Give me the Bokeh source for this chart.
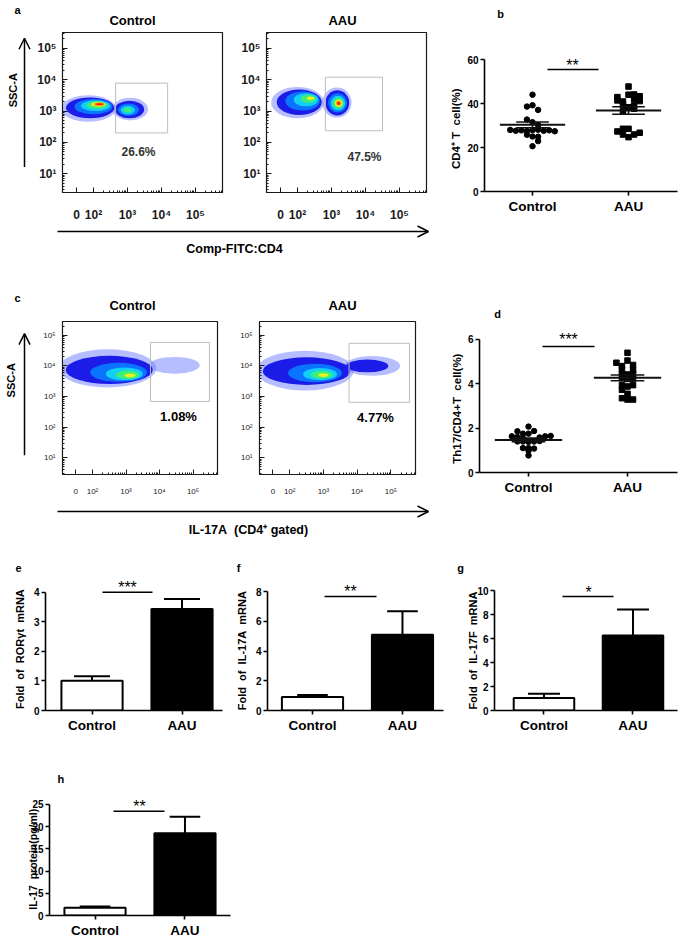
import math
from bokeh.plotting import figure
from bokeh.models import Range1d, FixedTicker, Label, Arrow, OpenHead, ColumnDataSource
from bokeh.layouts import row, column
from bokeh.embed import file_html
from bokeh.resources import INLINE

FONT = "Liberation Sans"
SP = "\u00a0"  # non-collapsing space for the wide gaps of the original labels

# ===================== DATA =====================
groups = ["Control", "AAU"]
group_pos = [1, 2]

flow_x_ticks = [1.5, 2, 3, 4, 5]
flow_x_labels = ["0", "10²", "10³", "10⁴", "10⁵"]
flow_y_ticks = [1, 2, 3, 4, 5]
flow_y_labels = ["10¹", "10²", "10³", "10⁴", "10⁵"]

# panel a: density contour levels (log10 units)
a_ctrl_x = [1.85, 1.90, 2.00, 2.06, 2.10, 2.14, 2.17, 2.18, 3.08, 3.06, 3.03, 3.01, 3.00]
a_ctrl_y = [3.08, 3.10, 3.14, 3.17, 3.19, 3.21, 3.22, 3.22, 3.06, 3.05, 3.04, 3.03, 3.03]
a_ctrl_w = [1.62, 1.42, 1.12, 0.86, 0.62, 0.42, 0.30, 0.20, 1.05, 0.86, 0.62, 0.42, 0.24]
a_ctrl_h = [0.84, 0.66, 0.48, 0.34, 0.24, 0.15, 0.10, 0.06, 0.72, 0.56, 0.40, 0.28, 0.15]
a_ctrl_lvl = [0, 1, 2, 3, 4, 5, 6, 7, 0, 1, 2, 3, 4]

a_aau_x = [2.00, 2.05, 2.15, 2.25, 2.32, 2.38, 3.16, 3.17, 3.18, 3.19, 3.20, 3.21, 3.21, 3.21]
a_aau_y = [3.27, 3.28, 3.32, 3.36, 3.39, 3.41, 3.27, 3.26, 3.26, 3.25, 3.25, 3.25, 3.25, 3.24]
a_aau_w = [1.55, 1.32, 1.02, 0.72, 0.46, 0.22, 0.86, 0.70, 0.56, 0.43, 0.32, 0.22, 0.15, 0.09]
a_aau_h = [1.00, 0.82, 0.60, 0.42, 0.26, 0.11, 0.96, 0.80, 0.62, 0.47, 0.34, 0.23, 0.15, 0.09]
a_aau_lvl = [0, 1, 2, 3, 4, 5, 0, 1, 2, 3, 4, 5, 6, 7]

a_gate_left = [2.65, 2.82]
a_gate_right = [4.18, 4.50]
a_gate_bottom = [2.30, 2.37]
a_gate_top = [3.89, 4.08]
a_pct = ["26.6%", "47.5%"]

# panel c: density contour levels (log10 units)
c_ctrl_x = [2.45, 4.45, 2.50, 2.78, 2.95, 3.05, 3.12]
c_ctrl_y = [3.92, 4.02, 3.87, 3.79, 3.74, 3.71, 3.69]
c_ctrl_w = [2.90, 1.50, 2.60, 1.70, 1.10, 0.70, 0.34]
c_ctrl_h = [1.25, 0.55, 0.92, 0.62, 0.42, 0.28, 0.13]
c_ctrl_lvl = [0, 0, 1, 2, 3, 4, 5]

c_aau_x = [2.45, 4.45, 2.50, 4.30, 2.75, 2.90, 2.95, 3.00]
c_aau_y = [3.85, 4.00, 3.83, 4.00, 3.77, 3.73, 3.71, 3.70]
c_aau_w = [2.90, 1.65, 2.60, 1.25, 1.60, 1.00, 0.65, 0.30]
c_aau_h = [1.30, 0.65, 0.90, 0.42, 0.60, 0.40, 0.26, 0.12]
c_aau_lvl = [0, 0, 1, 1, 2, 3, 4, 5]

c_gate_left = [3.73, 3.76]
c_gate_right = [5.49, 5.55]
c_gate_bottom = [2.84, 2.81]
c_gate_top = [4.77, 4.74]
c_pct = ["1.08%", "4.77%"]

# panel b: CD4+ T cell (%)
b_ctrl = [44.0, 39.2, 38.6, 37.1, 32.7, 31.5, 30.2, 28.0, 27.6, 27.8, 27.5, 27.9,
          28.1, 27.6, 27.8, 27.4, 25.8, 25.0, 24.9, 22.9, 20.6]
b_ctrl_dx = [0, 0, -0.058, 0.058, -0.058, 0, 0.058, -0.232, -0.174, -0.116, -0.058, 0,
             0.058, 0.116, 0.174, 0.232, -0.058, 0, 0.058, 0.058, 0]
b_aau = [47.7, 44.0, 44.1, 43.3, 42.9, 41.8, 41.4, 41.1, 40.9, 39.4, 39.0, 38.3,
         37.6, 36.6, 28.5, 28.5, 27.3, 26.7, 25.9, 25.9, 24.7]
b_aau_dx = [0, 0, 0.058, 0.116, -0.116, 0.058, -0.116, 0.116, -0.058, -0.058, 0.058, 0,
            0.058, -0.058, -0.058, 0, -0.116, 0.116, -0.058, 0.058, 0]
b_mean = [30.3, 36.8]
b_sem = [1.3, 1.7]

# panel d: Th17/CD4+T cell (%)
d_ctrl = [2.07, 1.86, 1.87, 1.75, 1.75, 1.63, 1.60, 1.58, 1.63, 1.65, 1.55,
          1.40, 1.40, 1.38, 1.40, 1.42, 1.10, 1.10, 1.08, 0.98, 0.77]
d_ctrl_dx = [0, -0.112, 0.056, -0.056, 0, -0.168, -0.112, 0.112, 0.168, 0.224, -0.056,
             -0.112, -0.056, 0, 0.056, 0.112, -0.056, 0, 0.056, 0, 0]
d_aau = [5.40, 5.05, 4.95, 4.85, 4.80, 4.65, 4.62, 4.45, 4.45, 4.42, 4.25,
         4.22, 4.22, 3.94, 3.94, 3.88, 3.73, 3.55, 3.35, 3.29, 3.29]
d_aau_dx = [0, 0, -0.112, 0.056, -0.056, -0.056, 0.056, -0.056, 0.056, 0, -0.056,
            0, 0.056, -0.056, 0.056, 0, -0.056, 0, -0.056, 0, 0.056]
d_mean = [1.47, 4.27]
d_sem = [0.08, 0.13]

# panels e-h: bar means and SEM
e_mean = [1.01, 3.43]
e_err = [0.15, 0.34]
f_mean = [0.90, 5.09]
f_err = [0.15, 1.59]
g_mean = [1.05, 6.25]
g_err = [0.34, 2.17]
h_mean = [1.74, 18.5]
h_err = [0.30, 3.70]

# ===================== LAYOUT (pixel boxes: left, top, right, bottom) =====================
FLOW_A_X = (1.088, 5.794)
FLOW_A_Y = (0.397, 5.508)
FLOW_C_X = (1.104, 5.731)
FLOW_C_Y = (0.452, 5.452)


def strip(box):
    return dict(canvas=box, frame=box, xr=(0, 1), yr=(0, 1))


S_TA = strip((0, 0, 445, 30))
S_NA = strip((0, 30, 32, 224))
S_A1 = dict(canvas=(32, 30, 238, 224), frame=(62, 32, 222, 193), xr=FLOW_A_X, yr=FLOW_A_Y)
S_A2 = dict(canvas=(238, 30, 445, 224), frame=(266, 32, 426, 193), xr=FLOW_A_X, yr=FLOW_A_Y)
S_XA = strip((0, 224, 445, 285))
S_TB = strip((445, 0, 685, 24))
S_B = dict(canvas=(445, 24, 685, 285), frame=(484, 24, 677, 191), xr=(0.5, 2.51), yr=(0, 75.91))
S_TC = strip((0, 285, 445, 312))
S_NC = strip((0, 312, 32, 502))
S_C1 = dict(canvas=(32, 312, 236, 502), frame=(62, 321, 217, 476), xr=FLOW_C_X, yr=FLOW_C_Y)
S_C2 = dict(canvas=(236, 312, 445, 502), frame=(259, 318, 415, 474), xr=FLOW_C_X, yr=FLOW_C_Y)
S_XC = strip((0, 502, 445, 555))
S_TD = strip((445, 285, 685, 322))
S_D = dict(canvas=(445, 322, 685, 555), frame=(479, 322, 677, 472), xr=(0.505, 2.505), yr=(0, 6.766))
S_TE = strip((0, 555, 685, 575))
S_E = dict(canvas=(0, 575, 232, 765), frame=(45, 575, 222, 712), xr=(0.483, 2.45), yr=(0, 4.567))
S_F = dict(canvas=(232, 575, 455, 765), frame=(267, 575, 443, 710), xr=(0.5, 2.456), yr=(0, 9.076))
S_G = dict(canvas=(455, 575, 685, 765), frame=(494, 575, 677, 710), xr=(0.444, 2.5), yr=(0, 11.25))
S_TH = strip((0, 765, 240, 785))
S_H = dict(canvas=(0, 785, 240, 940), frame=(49, 785, 230, 916), xr=(0.494, 2.506), yr=(0, 29.24))

LEVEL_COLORS = ["#6f7dff", "#1c1ce8", "#0a74ff", "#12d0f5", "#3cef78", "#e8f21e", "#ff8a00", "#ff1a00"]
LEVEL_ALPHA = [0.5, 1, 1, 1, 1, 1, 1, 1]


def px(spec, x, y):
    fl, ft, fr, fb = spec["frame"]
    x0, x1 = spec["xr"]
    y0, y1 = spec["yr"]
    return (x0 + (x - fl) / (fr - fl) * (x1 - x0),
            y1 - (y - ft) / (fb - ft) * (y1 - y0))


def make_fig(spec, axes=True):
    cl, ct, cr, cb = spec["canvas"]
    fl, ft, fr, fb = spec["frame"]
    kw = {}
    if not axes:
        kw = dict(x_axis_location=None, y_axis_location=None)
    p = figure(width=cr - cl, height=cb - ct,
               x_range=Range1d(*spec["xr"]), y_range=Range1d(*spec["yr"]),
               output_backend="svg", toolbar_location=None,
               min_border_left=fl - cl, min_border_right=cr - fr,
               min_border_top=ft - ct, min_border_bottom=cb - fb, **kw)
    p.xgrid.visible = False
    p.ygrid.visible = False
    p.outline_line_color = None
    p.background_fill_color = "white"
    p.border_fill_color = "white"
    return p


def label(p, spec, x, y, text, size, style="bold", angle=0.0, color="black", align="center"):
    sx, sy = px(spec, x, y)
    p.add_layout(Label(x=sx, y=sy, text=text, text_font=FONT,
                       text_font_size=f"{size}px", text_font_style=style,
                       text_color=color, angle=angle, text_align=align,
                       text_baseline="middle"))


def line(p, spec, x0, y0, x1, y1, head=False, lw=1.5):
    sx0, sy0 = px(spec, x0, y0)
    sx1, sy1 = px(spec, x1, y1)
    p.add_layout(Arrow(x_start=sx0, y_start=sy0, x_end=sx1, y_end=sy1,
                       line_color="black", line_width=lw,
                       end=OpenHead(size=11, line_width=lw, line_color="black") if head else None))


def style_flow(p, size, style, xstand, ystand):
    xr = p.x_range
    yr = p.y_range
    xminor = [d + math.log10(k) for d in range(2, 6) for k in range(2, 10)
              if d + math.log10(k) < xr.end]
    yminor = [d + math.log10(k) for d in range(0, 6) for k in range(2, 10)
              if yr.start < d + math.log10(k) < yr.end]
    p.xaxis.ticker = FixedTicker(ticks=flow_x_ticks, minor_ticks=xminor)
    p.yaxis.ticker = FixedTicker(ticks=flow_y_ticks, minor_ticks=yminor)
    p.xaxis.major_label_overrides = dict(zip(flow_x_ticks, flow_x_labels))
    p.yaxis.major_label_overrides = dict(zip(flow_y_ticks, flow_y_labels))
    for ax in (p.xaxis[0], p.yaxis[0]):
        ax.major_tick_in = 5
        ax.major_tick_out = 0
        ax.minor_tick_in = 2
        ax.minor_tick_out = 0
        ax.axis_line_color = "#1a1a1a"
        ax.major_tick_line_color = "#1a1a1a"
        ax.minor_tick_line_color = "#1a1a1a"
        ax.major_label_text_font = FONT
        ax.major_label_text_font_size = f"{size}px"
        ax.major_label_text_font_style = style
        ax.major_label_text_color = "#1a1a1a"
    p.xaxis.major_label_standoff = xstand
    p.yaxis.major_label_standoff = ystand
    p.outline_line_color = "#1a1a1a"
    p.outline_line_width = 1.2


def draw_density(p, xs, ys, ws, hs, lvls):
    order = sorted(range(len(xs)), key=lambda i: lvls[i])
    src = ColumnDataSource(dict(
        x=[xs[i] for i in order], y=[ys[i] for i in order],
        w=[ws[i] for i in order], h=[hs[i] for i in order],
        color=[LEVEL_COLORS[lvls[i]] for i in order],
        alpha=[LEVEL_ALPHA[lvls[i]] for i in order]))
    p.ellipse(x="x", y="y", width="w", height="h", fill_color="color",
              fill_alpha="alpha", line_color=None, source=src)


def draw_gate(p, gl, gr, gb, gt, i):
    p.quad(left=[gl[i]], right=[gr[i]], bottom=[gb[i]], top=[gt[i]],
           fill_color=None, line_color="#bdbdbd", line_width=1)


def style_graph(p, yticks, ylabel, standoff, pad, size=11.5):
    p.xaxis.ticker = FixedTicker(ticks=group_pos)
    p.xaxis.major_label_overrides = dict(zip(group_pos, groups))
    p.yaxis.ticker = FixedTicker(ticks=yticks)
    p.yaxis.bounds = (yticks[0], yticks[-1])
    for ax in (p.xaxis[0], p.yaxis[0]):
        ax.axis_line_width = 1.6
        ax.axis_line_color = "black"
        ax.major_tick_line_width = 1.6
        ax.major_tick_in = 0
        ax.major_tick_out = 4
        ax.minor_tick_out = 0
        ax.minor_tick_in = 0
        ax.major_label_text_font = FONT
        ax.major_label_text_font_style = "bold"
        ax.major_label_text_color = "black"
    p.xaxis.major_label_text_font_size = "13.5px"
    p.xaxis.major_label_standoff = 3
    p.yaxis.major_label_text_font_size = "10px"
    p.yaxis.major_label_standoff = 2
    # trailing non-breaking spaces keep the label centred on the drawn axis span
    p.yaxis.axis_label = ylabel + SP * pad
    p.yaxis.axis_label_text_font = FONT
    p.yaxis.axis_label_text_font_size = f"{size}px"
    p.yaxis.axis_label_text_font_style = "bold"
    p.yaxis.axis_label_text_color = "black"
    p.yaxis.axis_label_standoff = standoff


def draw_scatter(p, ctrl, ctrl_dx, aau, aau_dx, mean, sem):
    p.scatter(x=[group_pos[0] + d for d in ctrl_dx], y=ctrl, marker="circle",
              size=5.5, color="black")
    p.scatter(x=[group_pos[1] + d for d in aau_dx], y=aau, marker="square",
              size=5.5, color="black")
    p.segment(x0=[g - 0.34 for g in group_pos], y0=mean,
              x1=[g + 0.34 for g in group_pos], y1=mean, line_color="#111111", line_width=2)
    hi = [m + s for m, s in zip(mean, sem)]
    lo = [m - s for m, s in zip(mean, sem)]
    for ys in (hi, lo):
        p.segment(x0=[g - 0.17 for g in group_pos], y0=ys,
                  x1=[g + 0.17 for g in group_pos], y1=ys, line_color="#111111", line_width=1.6)
    p.segment(x0=group_pos, y0=lo, x1=group_pos, y1=hi, line_color="#111111", line_width=1.6)


def draw_bars(p, mean, err, cap=0.18):
    top = [m + e for m, e in zip(mean, err)]
    p.segment(x0=group_pos, y0=mean, x1=group_pos, y1=top, line_color="black", line_width=2)
    p.segment(x0=[g - cap for g in group_pos], y0=top, x1=[g + cap for g in group_pos],
              y1=top, line_color="black", line_width=2)
    p.vbar(x=group_pos, top=mean, width=0.68, fill_color=["white", "black"],
           line_color="black", line_width=2)


# ===================== PANEL a =====================
fta = make_fig(S_TA, axes=False)
label(fta, S_TA, 17, 9, "a", 11)
label(fta, S_TA, 132, 20, groups[0], 13)
label(fta, S_TA, 342, 20, groups[1], 13)

fna = make_fig(S_NA, axes=False)
label(fna, S_NA, 12, 100, "SSC-A", 11, angle=math.pi / 2)
line(fna, S_NA, 24, 193, 24, 37, head=True)

fa1 = make_fig(S_A1)
style_flow(fa1, 12, "bold", 15, 6)
draw_density(fa1, a_ctrl_x, a_ctrl_y, a_ctrl_w, a_ctrl_h, a_ctrl_lvl)
draw_gate(fa1, a_gate_left, a_gate_right, a_gate_bottom, a_gate_top, 0)
label(fa1, S_A1, 138, 152, a_pct[0], 12, color="#333333")

fa2 = make_fig(S_A2)
style_flow(fa2, 12, "bold", 15, 6)
draw_density(fa2, a_aau_x, a_aau_y, a_aau_w, a_aau_h, a_aau_lvl)
draw_gate(fa2, a_gate_left, a_gate_right, a_gate_bottom, a_gate_top, 1)
label(fa2, S_A2, 364, 157, a_pct[1], 12, color="#333333")

fxa = make_fig(S_XA, axes=False)
line(fxa, S_XA, 57, 231, 428, 231, head=True)
label(fxa, S_XA, 234, 248, "Comp-FITC:CD4", 12.5)

# ===================== PANEL b =====================
ftb = make_fig(S_TB, axes=False)
label(ftb, S_TB, 465, 13, "b", 11)

fb = make_fig(S_B)
style_graph(fb, [0, 20, 40, 60], f"CD4⁺ T{SP}{SP}cell(%)", 2, 13)
draw_scatter(fb, b_ctrl, b_ctrl_dx, b_aau, b_aau_dx, b_mean, b_sem)
line(fb, S_B, 547, 69, 598, 69)
label(fb, S_B, 572, 65, "**", 16, style="normal")

# ===================== PANEL c =====================
ftc = make_fig(S_TC, axes=False)
label(ftc, S_TC, 17, 297, "c", 11)
label(ftc, S_TC, 132, 305, groups[0], 13)
label(ftc, S_TC, 342, 305, groups[1], 13)

fnc = make_fig(S_NC, axes=False)
label(fnc, S_NC, 10, 385, "SSC-A", 11, angle=math.pi / 2)
line(fnc, S_NC, 24, 478, 24, 327, head=True)

fc1 = make_fig(S_C1)
style_flow(fc1, 8, "normal", 12, 7)
draw_density(fc1, c_ctrl_x, c_ctrl_y, c_ctrl_w, c_ctrl_h, c_ctrl_lvl)
draw_gate(fc1, c_gate_left, c_gate_right, c_gate_bottom, c_gate_top, 0)
label(fc1, S_C1, 178, 417, c_pct[0], 13)

fc2 = make_fig(S_C2)
style_flow(fc2, 8, "normal", 12, 7)
draw_density(fc2, c_aau_x, c_aau_y, c_aau_w, c_aau_h, c_aau_lvl)
draw_gate(fc2, c_gate_left, c_gate_right, c_gate_bottom, c_gate_top, 1)
label(fc2, S_C2, 375, 416, c_pct[1], 13)

fxc = make_fig(S_XC, axes=False)
line(fxc, S_XC, 57, 511, 428, 511, head=True)
label(fxc, S_XC, 248, 529, f"IL-17A{SP}{SP}(CD4⁺{SP}gated)", 12.5)

# ===================== PANEL d =====================
ftd = make_fig(S_TD, axes=False)
label(ftd, S_TD, 467, 313, "d", 11)

fd = make_fig(S_D)
style_graph(fd, [0, 2, 4, 6], f"Th17/CD4+T{SP}{SP}cell(%)", 2, 7)
draw_scatter(fd, d_ctrl, d_ctrl_dx, d_aau, d_aau_dx, d_mean, d_sem)
line(fd, S_D, 542, 346, 594, 346)
label(fd, S_D, 568, 339, "***", 16, style="normal")

# ===================== PANELS e, f, g, h =====================
fte = make_fig(S_TE, axes=False)
label(fte, S_TE, 18, 567, "e", 11)
label(fte, S_TE, 238, 567, "f", 11)
label(fte, S_TE, 460, 567, "g", 11)

fe = make_fig(S_E)
style_graph(fe, [0, 1, 2, 3, 4], f"Fold{SP}{SP}of{SP}{SP}RORγt{SP}{SP}mRNA", 5, 4, size=11)
draw_bars(fe, e_mean, e_err, cap=0.2)
line(fe, S_E, 102, 592, 152, 592)
label(fe, S_E, 127, 587, "***", 16, style="normal")

ff = make_fig(S_F)
style_graph(ff, [0, 2, 4, 6, 8], f"Fold{SP}{SP}of{SP}{SP}IL-17A{SP}{SP}mRNA", 5, 5, size=11)
draw_bars(ff, f_mean, f_err, cap=0.17)
line(ff, S_F, 324, 596, 376, 596)
label(ff, S_F, 350, 591, "**", 16, style="normal")

fg = make_fig(S_G)
style_graph(fg, [0, 2, 4, 6, 8, 10], f"Fold{SP}{SP}of{SP}{SP}IL-17F{SP}{SP}mRNA", -5, 5, size=11)
draw_bars(fg, g_mean, g_err, cap=0.18)
line(fg, S_G, 562, 596, 613, 596)
label(fg, S_G, 588, 592, "*", 16, style="normal")

fth = make_fig(S_TH, axes=False)
label(fth, S_TH, 15, 778, "h", 11)

fh = make_fig(S_H)
style_graph(fh, [0, 5, 10, 15, 20, 25], f"IL-17{SP}{SP}protein(pg/ml)", -10, 6, size=10.5)
draw_bars(fh, h_mean, h_err, cap=0.17)
line(fh, S_H, 113, 811, 164, 811)
label(fh, S_H, 139, 806, "**", 16, style="normal")

layout = column(
    row(column(fta, row(fna, fa1, fa2), fxa), column(ftb, fb)),
    row(column(ftc, row(fnc, fc1, fc2), fxc), column(ftd, fd)),
    column(fte, row(fe, ff, fg)),
    column(fth, fh),
)

open("out.html", "w").write(file_html(layout, INLINE))
